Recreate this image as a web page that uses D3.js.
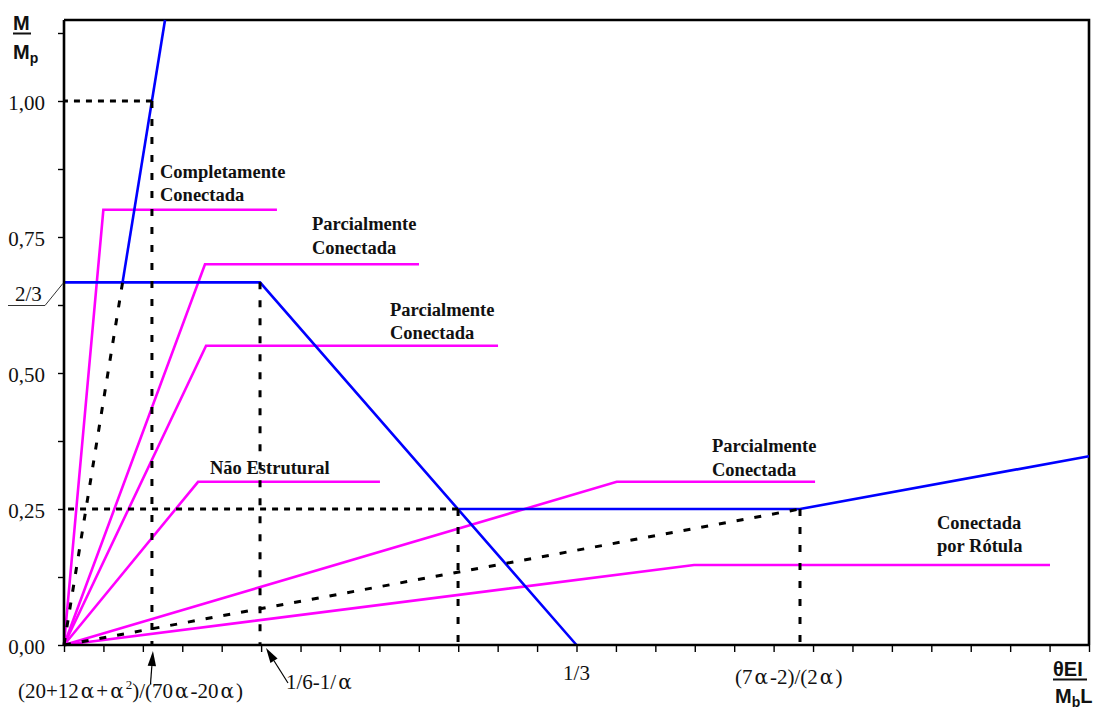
<!DOCTYPE html>
<html>
<head>
<meta charset="utf-8">
<script src="https://cdn.jsdelivr.net/npm/d3@7"></script>
<style>
  body { margin: 0; background: #fff; }
  svg { display: block; }
</style>
</head>
<body>
<svg id="chart" width="1102" height="711"></svg>
<script>
// Moment–rotation diagram: M/Mp against θEI/(Mb·L)

// axis extents and ticks
const xMax = 2 / 3;
const yMax = 1.149;
const xTickValues = d3.range(0, 27).map(i => i / 39);
const yTickValues = [0, 0.125, 0.25, 0.375, 0.5, 0.625, 0.75, 0.875, 1.0, 1.125];
const yLabelValues = [0, 0.25, 0.5, 0.75, 1.0];
const yLabelTexts = ["0,00", "0,25", "0,50", "0,75", "1,00"];

// connection curves (magenta): origin → yield point → plateau
const fullyConnected = [[0, 0], [0.0256, 0.80], [0.1385, 0.80]];
const partialA = [[0, 0], [0.0917, 0.70], [0.2309, 0.70]];
const partialB = [[0, 0], [0.0924, 0.55], [0.2823, 0.55]];
const nonStructural = [[0, 0], [0.0872, 0.30], [0.2055, 0.30]];
const partialC = [[0, 0], [0.3595, 0.30], [0.4885, 0.30]];
const pinned = [[0, 0], [0.4098, 0.147], [0.6413, 0.147]];

// classification limits (blue)
const rigidLimit = [[0.0381, 2 / 3], [0.0657, 1.149]];
const strengthLimit = [[0, 2 / 3], [0.1275, 2 / 3], [1 / 3, 0]];
const flexibleLimit = [[0.2563, 0.25], [0.4787, 0.25], [2 / 3, 0.347]];

// construction lines (black dashed)
const guideH = [
  [[0.0572, 1.0], [0, 1.0]],
  [[0.2563, 0.25], [0, 0.25]]
];
const guideV = [
  [[0.0572, 1.0], [0.0572, 0]],
  [[0.1275, 2 / 3], [0.1275, 0]],
  [[0.2563, 0.25], [0.2563, 0]],
  [[0.4787, 0.25], [0.4787, 0]]
];
const guideDiag = [
  [[0, 0], [0.0381, 2 / 3]],
  [[0, 0], [0.4787, 0.25]]
];

const svg = d3.select("#chart");
const x = d3.scaleLinear().domain([0, xMax]).range([64, 1089]);
const y = d3.scaleLinear().domain([0, 1]).range([645, 101]);
const line = d3.line().x(d => x(d[0])).y(d => y(d[1]));

const serif = "'Liberation Serif', 'Times New Roman', serif";
const sans = "'Liberation Sans', Arial, sans-serif";

// frame: top and right edges
svg.append("path")
  .attr("d", `M${x(0)},${y(yMax)}H${x(xMax)}V${y(0)}`)
  .attr("fill", "none").attr("stroke", "#000").attr("stroke-width", 2.6);

// curves
const magenta = [fullyConnected, partialA, partialB, nonStructural, partialC, pinned];
svg.append("g").selectAll("path").data(magenta).join("path")
  .attr("d", line).attr("fill", "none")
  .attr("stroke", "#ff00ff").attr("stroke-width", 2.6);

svg.append("g").selectAll("path").data([rigidLimit, strengthLimit, flexibleLimit]).join("path")
  .attr("d", line).attr("fill", "none")
  .attr("stroke", "#0000ff").attr("stroke-width", 2.6);

svg.append("g").selectAll("path").data(guideH).join("path")
  .attr("d", line).attr("fill", "none")
  .attr("stroke", "#000").attr("stroke-width", 3).attr("stroke-dasharray", "6,6");
svg.append("g").selectAll("path").data(guideV.concat(guideDiag)).join("path")
  .attr("d", line).attr("fill", "none")
  .attr("stroke", "#000").attr("stroke-width", 3).attr("stroke-dasharray", "7,11");

// axes
const yAxis = svg.append("g").attr("transform", `translate(${x(0)},0)`)
  .call(d3.axisLeft(y).tickValues(yTickValues).tickSize(6).tickSizeOuter(0)
    .tickPadding(13)
    .tickFormat(d => {
      const i = yLabelValues.findIndex(v => Math.abs(v - d) < 1e-9);
      return i >= 0 ? yLabelTexts[i] : "";
    }));
yAxis.select(".domain").attr("d", `M0,${y(yMax)}V${y(0)}`).attr("stroke-width", 2.6);
yAxis.selectAll(".tick line").attr("stroke-width", 1.4);
yAxis.selectAll(".tick text").attr("font-family", serif).attr("font-size", 21)
  .attr("fill", "#111").attr("dy", "0.42em");

const xAxis = svg.append("g").attr("transform", `translate(0,${y(0)})`)
  .call(d3.axisBottom(x).tickValues(xTickValues).tickSize(7).tickSizeOuter(0).tickFormat(""));
xAxis.select(".domain").attr("d", `M${x(0)},0H${x(xMax)}`).attr("stroke-width", 2.6);
xAxis.selectAll(".tick line").attr("stroke-width", 1.4);

// 2/3 label with leader
svg.append("text").attr("x", 15).attr("y", 301).attr("font-family", serif)
  .attr("font-size", 21).attr("fill", "#111").text("2/3");
svg.append("path").attr("d", `M8,305.5H45L${x(0) - 1},${y(2 / 3) + 1}`)
  .attr("fill", "none").attr("stroke", "#333").attr("stroke-width", 1);

// curve labels
const curveLabels = [
  { x: 160, y: 177.5, lines: ["Completamente", "Conectada"] },
  { x: 312, y: 230, lines: ["Parcialmente", "Conectada"] },
  { x: 390, y: 315.5, lines: ["Parcialmente", "Conectada"] },
  { x: 210, y: 474, lines: ["Não Estrutural"] },
  { x: 712, y: 452, lines: ["Parcialmente", "Conectada"] },
  { x: 937, y: 528.5, lines: ["Conectada", "por Rótula"] }
];
const lbl = svg.append("g").attr("font-family", serif).attr("font-weight", "bold")
  .attr("font-size", 18.5).attr("fill", "#111");
curveLabels.forEach(c => {
  const t = lbl.append("text").attr("x", c.x).attr("y", c.y);
  c.lines.forEach((s, i) => t.append("tspan").attr("x", c.x).attr("dy", i ? 23.5 : 0).text(s));
});

// x-axis annotations; α is set a little wider, as in a symbol font
const ann = svg.append("g").attr("font-family", serif).attr("font-size", 21).attr("fill", "#111");
function formula(str, px, py, anchor) {
  const t = ann.append("text").attr("x", px).attr("y", py).attr("text-anchor", anchor || "start");
  const pad = 2;
  let pendingDx = 0, raised = false;
  for (const ch of str) {
    const s = t.append("tspan").text(ch);
    if (ch === "α") {
      s.attr("font-family", "'DejaVu Serif', serif").attr("font-size", 20).attr("dx", pad + pendingDx);
      pendingDx = pad;
    } else if (ch === "²") {
      s.text("2").attr("font-size", 13).attr("dy", -9).attr("dx", pendingDx);
      pendingDx = 0; raised = true;
    } else {
      if (pendingDx || raised) s.attr("dx", pendingDx);
      if (raised) { s.attr("dy", 9); raised = false; }
      pendingDx = 0;
    }
  }
  return t;
}
formula("(20+12α+α²)/(70α-20α)", 18, 698);
formula("1/6-1/α", 286, 689);
formula("1/3", x(1 / 3), 680, "middle");
formula("(7α-2)/(2α)", 735, 684);

// arrows pointing at the axis positions
function arrow(tail, tip) {
  const dx = tip[0] - tail[0], dy = tip[1] - tail[1];
  const len = Math.hypot(dx, dy), ux = dx / len, uy = dy / len;
  const hl = 15, hw = 4.2;
  const bx = tip[0] - ux * hl, by = tip[1] - uy * hl;
  svg.append("line").attr("x1", tail[0]).attr("y1", tail[1]).attr("x2", bx).attr("y2", by)
    .attr("stroke", "#000").attr("stroke-width", 1.2);
  svg.append("path")
    .attr("d", `M${tip[0]},${tip[1]}L${bx - uy * hw},${by + ux * hw}L${bx + uy * hw},${by - ux * hw}Z`)
    .attr("fill", "#000");
}
arrow([150.5, 684], [x(0.0572) + 1, 651]);
arrow([288, 683], [x(0.1275) + 6, 648]);

// axis titles
const ttl = svg.append("g").attr("font-family", sans).attr("font-weight", "bold")
  .attr("font-size", 20).attr("fill", "#111");
ttl.append("text").attr("x", 13).attr("y", 29.5).text("M");
ttl.append("line").attr("x1", 13).attr("x2", 31).attr("y1", 33.5).attr("y2", 33.5)
  .attr("stroke", "#111").attr("stroke-width", 2);
const mp = ttl.append("text").attr("x", 13).attr("y", 59);
mp.append("tspan").text("M");
mp.append("tspan").attr("font-size", 14).attr("dy", 4).text("p");

ttl.append("text").attr("x", 1053).attr("y", 675.5).text("θEI");
ttl.append("line").attr("x1", 1053).attr("x2", 1087).attr("y1", 679.5).attr("y2", 679.5)
  .attr("stroke", "#111").attr("stroke-width", 2);
const mb = ttl.append("text").attr("x", 1055).attr("y", 702.5);
mb.append("tspan").text("M");
mb.append("tspan").attr("font-size", 14).attr("dy", 4).text("b");
mb.append("tspan").attr("dy", -4).text("L");
</script>
</body>
</html>
